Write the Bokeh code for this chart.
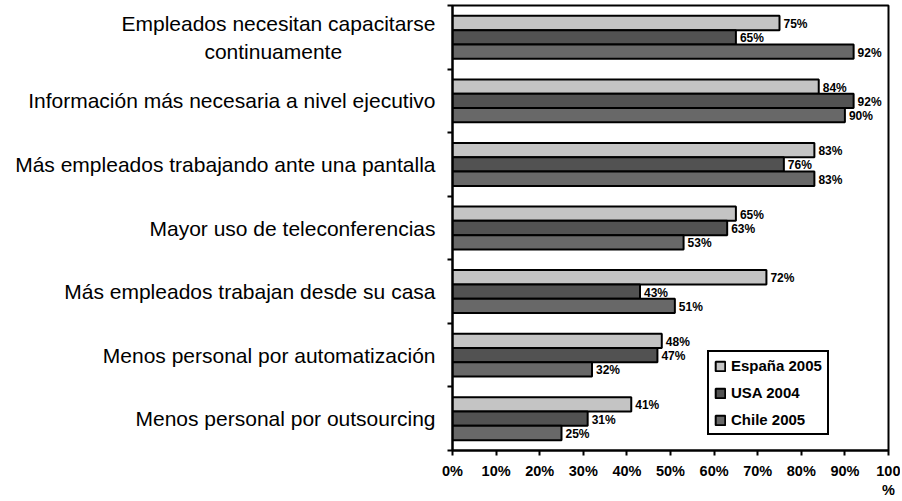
from bokeh.plotting import figure
from bokeh.models import Range1d, FixedTicker, LinearAxis, Legend, LegendItem, ColumnDataSource
from bokeh.core.properties import value
from bokeh.embed import file_html
from bokeh.resources import INLINE

NB = "\u00a0"
categories = [
    "Empleados necesitan capacitarse\ncontinuamente" + NB * 16,
    "Información más necesaria a nivel ejecutivo",
    "Más empleados trabajando ante una pantalla",
    "Mayor uso de teleconferencias",
    "Más empleados trabajan desde su casa",
    "Menos personal por automatización",
    "Menos personal por outsourcing",
]
espana = [75, 84, 83, 65, 72, 48, 41]
usa = [65, 92, 76, 63, 43, 47, 31]
chile = [92, 90, 83, 53, 51, 32, 25]
series_names = ["España 2005", "USA 2004", "Chile 2005"]
series_values = [espana, usa, chile]
colors = ["#c4c4c4", "#525252", "#686868"]
x_ticks = list(range(0, 101, 10))
x_tick_labels = {t: f"{t}%" for t in x_ticks}
x_tick_labels[100] = "100\n%"

FONT = "Liberation Sans"
n = len(categories)
centers = [n - 0.5 - i for i in range(n)]
boundaries = list(range(n + 1))
offsets = [0.225, 0.0, -0.225]
bar_h = 0.225

p = figure(width=900, height=500, x_range=Range1d(0, 100), y_range=Range1d(0, n),
           output_backend="svg", toolbar_location=None,
           min_border_left=452, min_border_right=12, min_border_top=5, min_border_bottom=0)
p.title = None
p.xgrid.visible = False
p.ygrid.visible = False
p.outline_line_color = "black"
p.outline_line_width = 2
p.outline_line_alpha = 1.0
p.background_fill_color = "white"

renderers = []
for name, vals, col, off in zip(series_names, series_values, colors, offsets):
    ys = [c + off for c in centers]
    src = ColumnDataSource(dict(y=ys, right=vals, lab=[f"{v}%" for v in vals]))
    r = p.hbar(y="y", left=0, right="right", height=bar_h, source=src,
               fill_color=col, line_color="black", line_width=2)
    renderers.append(r)
    p.text(x="right", y="y", text="lab", source=src, x_offset=4, y_offset=1,
           text_baseline="middle", text_align="left",
           text_font=value(FONT), text_font_style="bold", text_font_size="12px",
           text_color="black")

# x axis
xa = p.xaxis[0]
xa.ticker = FixedTicker(ticks=x_ticks)
xa.major_label_overrides = x_tick_labels
xa.major_label_text_font = FONT
xa.major_label_text_font_style = "bold"
xa.major_label_text_font_size = "14.5px"
xa.major_label_text_color = "black"
xa.major_label_standoff = 7
xa.major_tick_out = 5
xa.major_tick_in = 0
xa.minor_tick_out = 0
xa.minor_tick_in = 0
xa.axis_line_width = 2
xa.major_tick_line_width = 2
xa.axis_line_color = "black"
xa.major_tick_line_color = "black"
xa.axis_label = None
xa.axis_label_standoff = 0

# y axis: boundary ticks only
ya = p.yaxis[0]
ya.ticker = FixedTicker(ticks=boundaries)
ya.major_label_overrides = {b: "" for b in boundaries}
ya.major_label_standoff = 0
ya.major_tick_out = 5
ya.major_tick_in = 0
ya.minor_tick_out = 0
ya.minor_tick_in = 0
ya.axis_line_width = 2
ya.major_tick_line_width = 2
ya.axis_line_color = "black"
ya.major_tick_line_color = "black"
ya.axis_label = None
ya.axis_label_standoff = 0

# category labels axis
ca = LinearAxis(ticker=FixedTicker(ticks=centers),
                major_label_overrides={c: lab for c, lab in zip(centers, categories)})
ca.major_tick_out = 0
ca.major_tick_in = 0
ca.minor_tick_out = 0
ca.minor_tick_in = 0
ca.axis_line_color = None
ca.major_label_standoff = 12
ca.major_label_text_font = FONT
ca.major_label_text_font_size = "21px"
ca.major_label_text_color = "black"
ca.axis_label = None
ca.axis_label_standoff = 0
p.add_layout(ca, "left")

legend = Legend(items=[LegendItem(label=nm, renderers=[r]) for nm, r in zip(series_names, renderers)],
                location=(255, 15))
legend.border_line_color = "black"
legend.border_line_width = 2
legend.border_line_alpha = 1.0
legend.label_text_font = FONT
legend.label_text_font_style = "bold"
legend.label_text_font_size = "15px"
legend.label_text_color = "black"
legend.glyph_width = 12
legend.glyph_height = 12
legend.label_height = 14
legend.spacing = 10
legend.padding = 5
legend.margin = 0
legend.label_standoff = 5
legend.background_fill_alpha = 1.0
p.add_layout(legend)

open("out.html", "w").write(file_html(p, INLINE))
